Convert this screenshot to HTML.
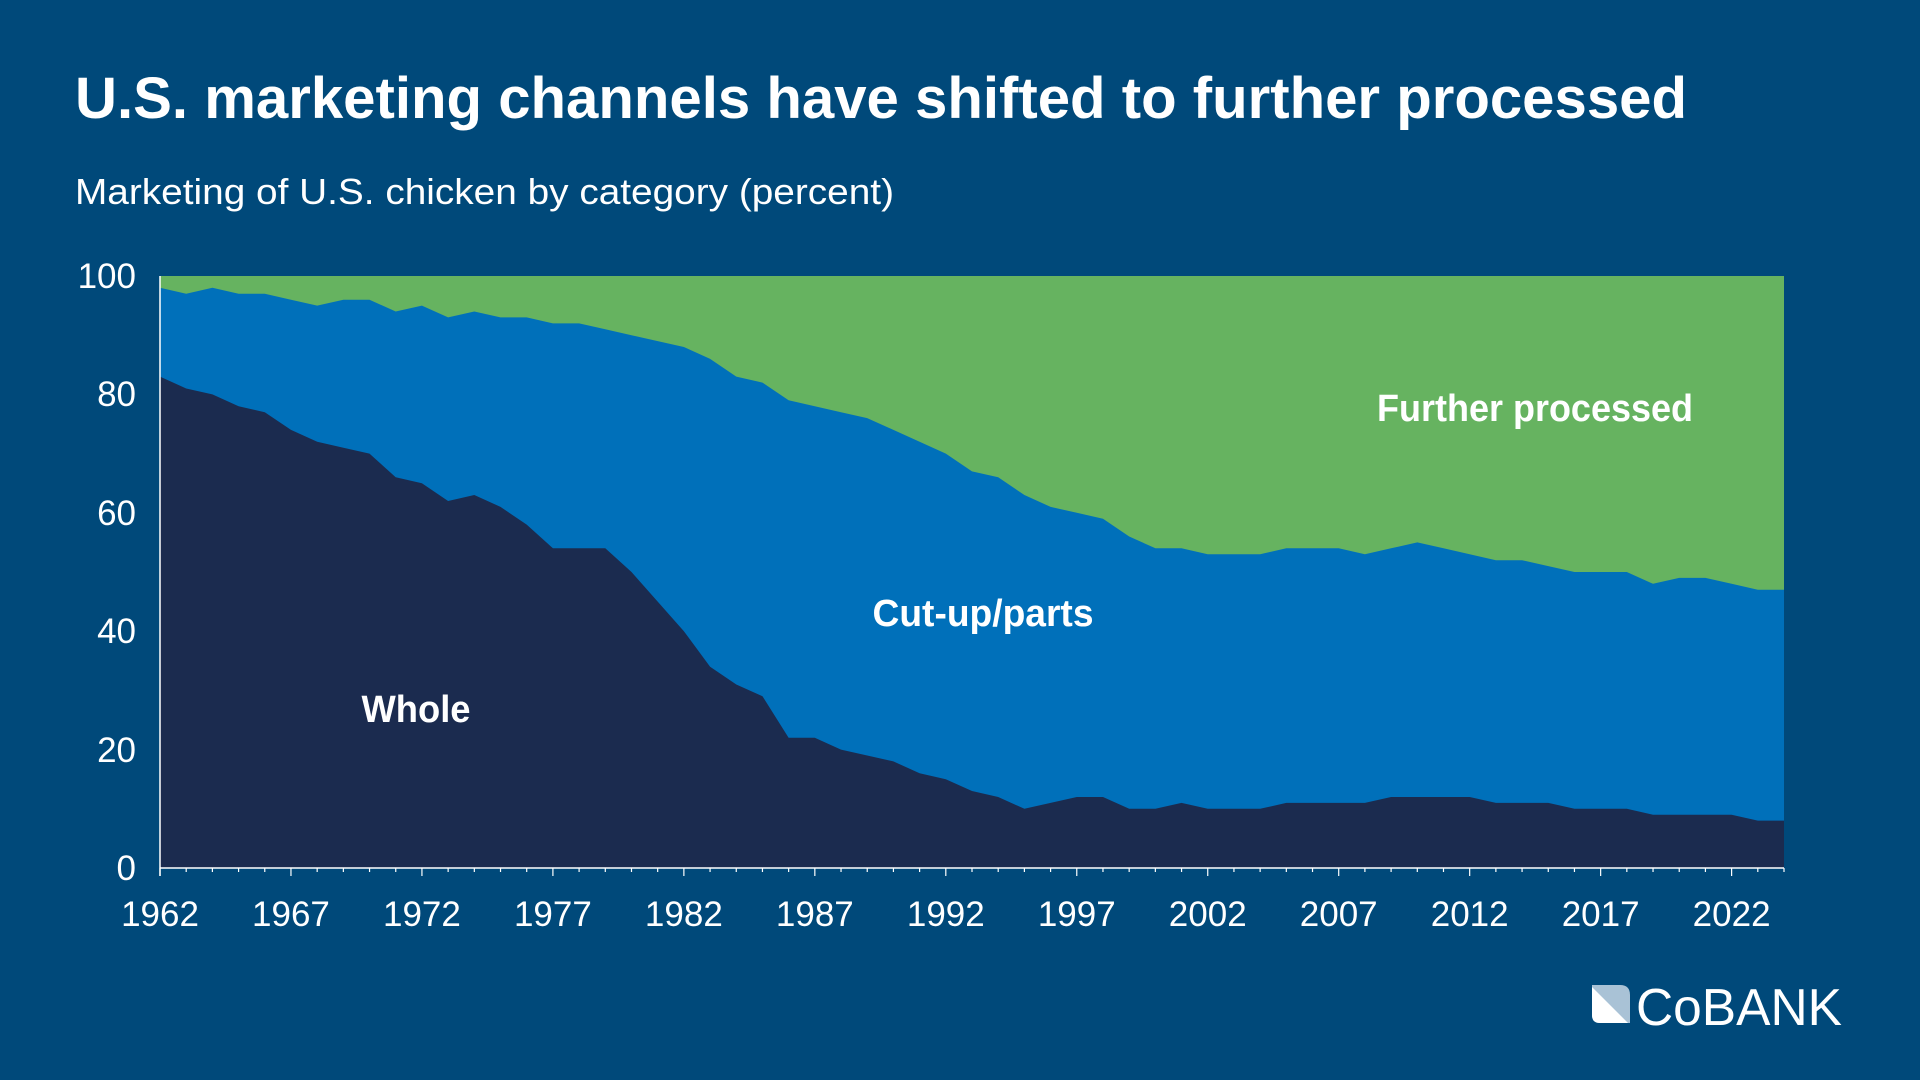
<!DOCTYPE html>
<html><head><meta charset="utf-8"><style>
html,body{margin:0;padding:0;background:#00497a;}
svg{display:block}
text{font-family:"Liberation Sans",sans-serif;fill:#fff}
</style></head><body>
<svg id="s" width="1920" height="1080" viewBox="0 0 1920 1080">
<rect width="1920" height="1080" fill="#00497a"/>
<text x="75" y="118" font-size="58" font-weight="bold" textLength="1612" lengthAdjust="spacingAndGlyphs">U.S. marketing channels have shifted to further processed</text>
<text x="75" y="204" font-size="36" textLength="819" lengthAdjust="spacingAndGlyphs">Marketing of U.S. chicken by category (percent)</text>
<g id="plot"></g>
<g font-size="35" text-anchor="end">
<text x="136" y="288">100</text><text x="136" y="406">80</text><text x="136" y="525">60</text><text x="136" y="643">40</text><text x="136" y="762">20</text><text x="136" y="880">0</text>
</g>
<g id="xl" font-size="35" text-anchor="middle"></g>
<g font-size="38" font-weight="bold" text-anchor="middle">
<text x="1535" y="421" textLength="316" lengthAdjust="spacingAndGlyphs">Further processed</text>
<text x="983" y="626" textLength="221" lengthAdjust="spacingAndGlyphs">Cut-up/parts</text>
<text x="416" y="722" textLength="109" lengthAdjust="spacingAndGlyphs">Whole</text>
</g>
<g transform="translate(1590,985)">
<path d="M2 0 H30 Q40 0 40 10 V38 H10 Q2 38 2 30 Z" fill="#a9c2d6"/>
<path d="M2 2 L38 38 H10 Q2 38 2 30 Z" fill="#fff"/>
<text x="46" y="40" font-size="52" textLength="206" lengthAdjust="spacingAndGlyphs">CoBANK</text>
</g>
</svg>
<script>
var whole=[83,81,80,78,77,74,72,71,70,66,65,62,63,61,58,54,54,54,50,45,40,34,31,29,22,22,20,19,18,16,15,13,12,10,11,12,12,10,10,11,10,10,10,11,11,11,11,12,12,12,12,11,11,11,10,10,10,9,9,9,9,8,8];
var top_=[98,97,98,97,97,96,95,96,96,94,95,93,94,93,93,92,92,91,90,89,88,86,83,82,79,78,77,76,74,72,70,67,66,63,61,60,59,56,54,54,53,53,53,54,54,54,53,54,55,54,53,52,52,51,50,50,50,48,49,49,48,47,47];
var L=160,R=1784,T=276,B=868,n=whole.length,dx=(R-L)/(n-1);
function X(i){return L+i*dx}function Y(v){return B-(B-T)*v/100}
function line(a){return a.map(function(v,i){return X(i).toFixed(1)+','+Y(v).toFixed(1)}).join(' L')}
var g='';
g+='<rect x="'+L+'" y="'+T+'" width="'+(R-L)+'" height="'+(B-T)+'" fill="#66b360"/>';
g+='<path d="M'+L+','+B+' L'+line(top_)+' L'+R+','+B+' Z" fill="#0070ba"/>';
g+='<path d="M'+L+','+B+' L'+line(whole)+' L'+R+','+B+' Z" fill="#1b2b4f"/>';
g+='<line x1="'+L+'" y1="'+T+'" x2="'+L+'" y2="'+(B+8)+'" stroke="#fff" stroke-width="1.5"/>';
g+='<line x1="'+L+'" y1="'+B+'" x2="'+R+'" y2="'+B+'" stroke="#fff" stroke-width="1.5"/>';
var xl='';
for(var y=1962;y<=2024;y++){var i=y-1962;g+='<line x1="'+X(i)+'" y1="'+B+'" x2="'+X(i)+'" y2="'+(B+((y-1962)%5==0?8:4))+'" stroke="#fff" stroke-width="1.2"/>';
if((y-1962)%5==0)xl+='<text x="'+X(i)+'" y="926">'+y+'</text>';}
document.getElementById('plot').innerHTML=g;document.getElementById('xl').innerHTML=xl;
</script>
</body></html>
